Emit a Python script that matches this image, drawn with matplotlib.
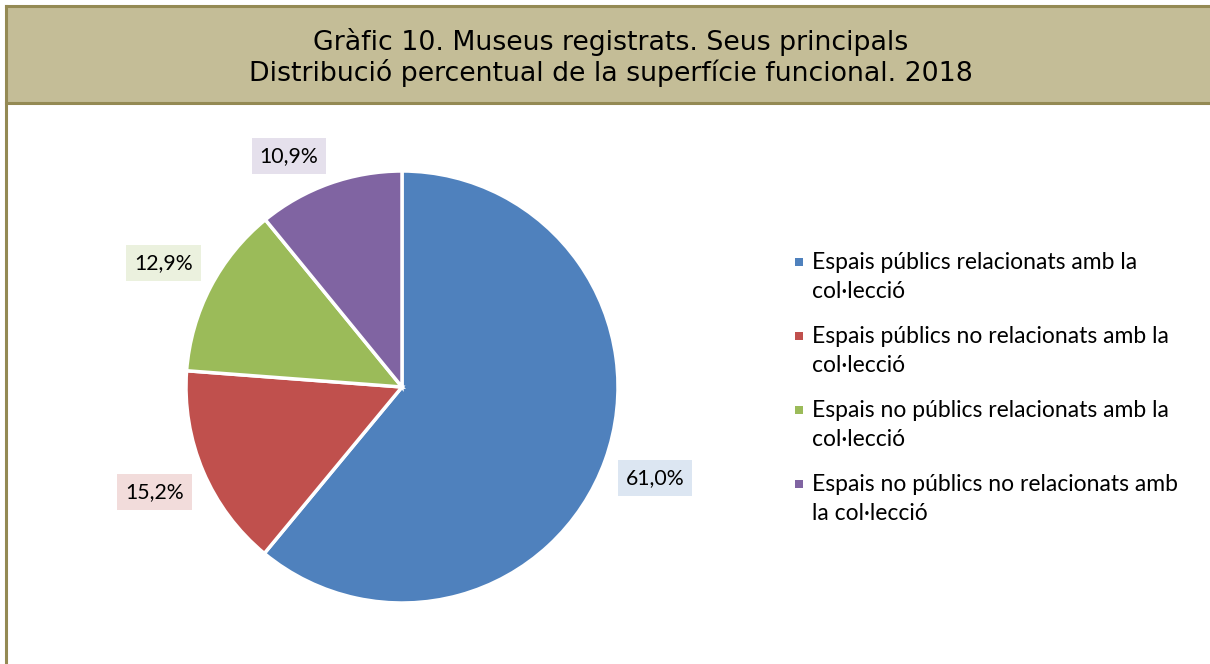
import matplotlib
matplotlib.use("Agg")
import matplotlib.pyplot as plt
from matplotlib.patches import Rectangle

categories = [
    "Espais públics relacionats amb la\ncol·lecció",
    "Espais públics no relacionats amb la\ncol·lecció",
    "Espais no públics relacionats amb la\ncol·lecció",
    "Espais no públics no relacionats amb\nla col·lecció",
]
values = [61.0, 15.2, 12.9, 10.9]
colors = ["#4f81bd", "#c0504d", "#9bbb59", "#8064a2"]
box_colors = ["#dce6f2", "#f2dcdb", "#ebf1de", "#e5e0ec"]
title_lines = [
    "Gràfic 10. Museus registrats. Seus principals",
    "Distribució percentual de la superfície funcional. 2018",
]

W, H = 1210, 664
fig = plt.figure(figsize=(W / 100, H / 100), dpi=100)
fig.patch.set_facecolor("white")

border = "#948a54"
# header band
fig.patches.append(Rectangle((6 / W, 1 - 103 / H), 1 - 6 / W, 96 / H,
                             transform=fig.transFigure, facecolor="#c4bd97",
                             edgecolor="none", zorder=0))
fig.add_artist(plt.Line2D([6 / W, 1], [1 - 6 / H, 1 - 6 / H], color=border, lw=2.2))
fig.add_artist(plt.Line2D([6 / W, 1], [1 - 103 / H, 1 - 103 / H], color=border, lw=2.2))
fig.add_artist(plt.Line2D([6 / W, 6 / W], [0, 1 - 6 / H], color=border, lw=2.2))

fig.text(611 / W, 1 - 42 / H, title_lines[0], ha="center", va="center",
         fontsize=19.3, family="DejaVu Sans")
fig.text(611 / W, 1 - 73 / H, title_lines[1], ha="center", va="center",
         fontsize=19.3, family="DejaVu Sans")

# pie: centre (402, 387) px, radius 216 px
r = 216
half = 1.25 * r
ax = fig.add_axes([(402 - half) / W, (H - 387 - half) / H, 2 * half / W, 2 * half / H])
wedges, texts, autotexts = ax.pie(
    values, colors=colors, startangle=90, counterclock=False,
    autopct=lambda p: f"{p:.1f}%".replace(".", ","), pctdistance=1.245,
    wedgeprops=dict(edgecolor="white", linewidth=2.5),
)
ax.set_xlim(-1.25, 1.25)
ax.set_ylim(-1.25, 1.25)
for t, bc in zip(autotexts, box_colors):
    t.set_fontsize(15.3)
    t.set_family("Lato")
    t.set_color("black")
    t.set_bbox(dict(boxstyle="square,pad=0.38", facecolor=bc, edgecolor="none"))
# the smallest slice's label sits a bit further round in the original
x, y = autotexts[3].get_position()
autotexts[3].set_position((x - 0.105, y - 0.105))

# legend
y0 = 262
step = 74
for i, (lab, c) in enumerate(zip(categories, colors)):
    y = y0 + i * step
    fig.patches.append(Rectangle((795 / W, 1 - (y + 4) / H), 8 / W, 8 / H,
                                 transform=fig.transFigure, facecolor=c,
                                 edgecolor="none"))
    fig.text(812 / W, 1 - (y - 10) / H, lab, ha="left", va="top",
             fontsize=16.5, family="Lato", linespacing=1.45)

fig.savefig("out.png", dpi=100)
